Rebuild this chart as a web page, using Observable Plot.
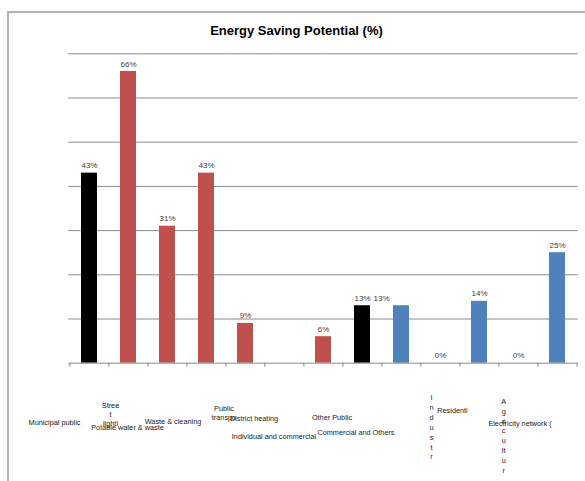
<!DOCTYPE html>
<html>
<head>
<meta charset="utf-8">
<script src="https://cdn.jsdelivr.net/npm/d3@7"></script>
<script src="https://cdn.jsdelivr.net/npm/@observablehq/plot@0.6"></script>
<style>
  body { margin: 0; background: #fff; }
</style>
</head>
<body>
<div id="chart"></div>
<script>
// Chart data
const title = "Energy Saving Potential (%)";
const categories = [
  "Municipal public", "Street lighting", "Potable water & waste", "Waste & cleaning",
  "Public transport", "District heating", "Individual and commercial", "Other Public",
  "Commercial and Others", "Industry", "Residential", "Agriculture", "Electricity network"
];
// Category labels as they wrap under the axis
const tickLabels = [
  "Municipal public", "Stree\nt\nlighti", "Potable water & waste", "Waste & cleaning",
  "Public\ntranspo", "District heating", "Individual and commercial", "Other Public",
  "Commercial and Others", "I\nn\nd\nu\ns\nt\nr", "Residenti",
  "A\ng\nri\nc\nu\nlt\nu\nr", "Electricity network ("
];
const values = [43, 66, 31, 43, 9, null, 6, 13, 13, 0, 14, 0, 25];
const groups = [
  "Municipal total", "Municipal sector", "Municipal sector", "Municipal sector",
  "Municipal sector", "Municipal sector", "Municipal sector", "Other total",
  "Other sector", "Other sector", "Other sector", "Other sector", "Other sector"
];
const groupNames = ["Municipal total", "Municipal sector", "Other total", "Other sector"];
const groupColors = ["#000000", "#C0504D", "#000000", "#4F81BD"];
const gridValues = [10, 20, 30, 40, 50, 60, 70];

// Layout of the staggered category labels: [dx, dy, lineHeight]
const labelLayout = [
  [-35, 59, 1], [-18, 51, 1.2], [-40, 64, 1], [-33.5, 58, 1],
  [-21.5, 49, 1.25], [-30.5, 55, 1], [-49.5, 73.5, 1], [-30.5, 54, 1],
  [-45.5, 69.5, 1], [-9, 63.5, 1.35], [-27, 47.5, 1], [-14.8, 72, 1.35], [-37.5, 60, 1]
];
// Horizontal nudge of value labels (keeps the two 13% labels apart)
const valueLabelShift = [0, 0, 0, 0, 0, 0, 0, 0, -20, 0, 0, 0, 0];

const rows = categories.map((c, i) => ({category: c, value: values[i], group: groups[i], i}));
const withValues = rows.filter(d => d.value != null);

const W = 585, H = 481;
const mLeft = 68.3, mRight = 7.3, mTop = 53.3, mBottom = 118.3;
const step = (W - mLeft - mRight) / categories.length;
const font = "'Liberation Sans', Arial, sans-serif";
// Chart-area border (left and top edges only)
const areaInset = {left: 8, top: 12};

const marks = [
  Plot.ruleY(gridValues, {stroke: "#8a8a8a", strokeWidth: 1}),
  Plot.barY(withValues, {x: "category", y: "value", fill: "group"}),
  Plot.ruleY([0], {stroke: "#8a8a8a", strokeWidth: 1}),
  // tick marks between categories
  Plot.ruleX(categories, {x: d => d, y1: 0, y2: 0, dx: -step / 2, insetBottom: -4, stroke: "#8a8a8a"}),
  Plot.ruleX(categories.slice(-1), {x: d => d, y1: 0, y2: 0, dx: step / 2, insetBottom: -4, stroke: "#8a8a8a"}),
  // title
  Plot.text([title], {
    text: d => d, frameAnchor: "top", dy: -23, dx: -27,
    fontSize: 13, fontWeight: "bold", fill: "#000", lineAnchor: "middle"
  }),
  // value labels
  ...withValues.map(d => Plot.text([d], {
    x: "category", y: "value", text: r => r.value + "%",
    dy: -7.5, dx: valueLabelShift[d.i], fontSize: 8, fill: "#404040", lineAnchor: "middle"
  })),
  // category labels
  ...rows.map((d, i) => Plot.text([d], {
    x: "category", y: () => 0, text: () => tickLabels[i],
    dx: labelLayout[i][0], dy: labelLayout[i][1], lineHeight: labelLayout[i][2],
    fontSize: 7.3, fill: "#1a1a1a", lineAnchor: "middle", textAnchor: "middle"
  }))
];

const chart = Plot.plot({
  width: W,
  height: H,
  marginLeft: mLeft,
  marginRight: mRight,
  marginTop: mTop,
  marginBottom: mBottom,
  style: {fontFamily: font, background: "#fff"},
  x: {domain: categories, axis: null, paddingInner: 0.6, paddingOuter: 0.3},
  y: {domain: [0, 70], axis: null},
  color: {domain: groupNames, range: groupColors},
  marks
});

// left and top edges of the chart area
d3.select(chart).append("path")
  .attr("d", `M${areaInset.left},${H + 2}V${areaInset.top}H${W + 2}`)
  .attr("fill", "none")
  .attr("stroke", "#b3b3b3")
  .attr("stroke-width", 2);

document.getElementById("chart").append(chart);
</script>
</body>
</html>
